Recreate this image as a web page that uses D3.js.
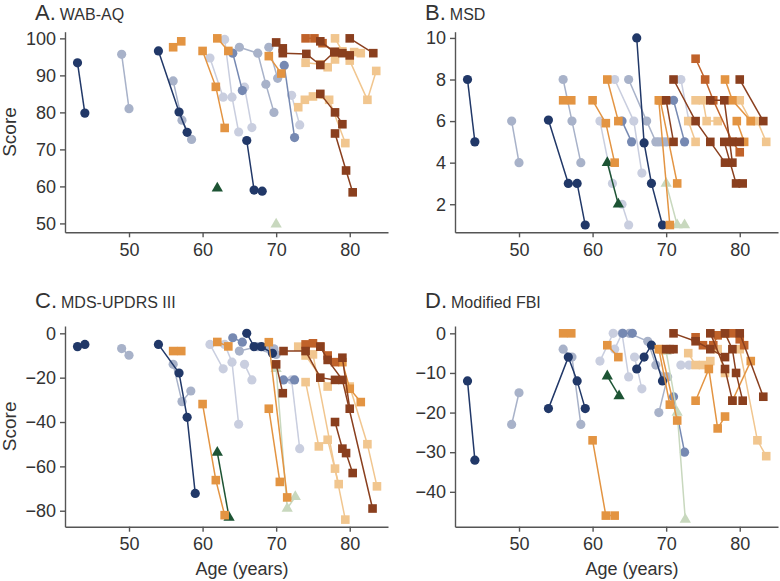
<!DOCTYPE html>
<html><head><meta charset="utf-8">
<script src="https://cdn.jsdelivr.net/npm/d3@7"></script>
<style>
body{margin:0;background:#fff;}
text{font-family:"Liberation Sans",Arial,sans-serif;fill:#333;}
</style></head>
<body><svg id="c" width="780" height="581"></svg>
<script>
// ---- data ----
const xTicks = [50, 60, 70, 80];
const panelLetters = ["A.", "B.", "C.", "D."];
const panelNames = ["WAB-AQ", "MSD", "MDS-UPDRS III", "Modified FBI"];
const yTicksA = [50, 60, 70, 80, 90, 100];
const yTicksB = [2, 4, 6, 8, 10];
const yTicksC = [0, -20, -40, -60, -80];
const yTicksD = [0, -10, -20, -30, -40];

const groupColors = {
  lightB: "#c9cedf", lightA: "#a8b2c9", medium: "#7689b2", navy: "#213868",
  dkgreen: "#1d5434", ltgreen: "#c8d8be",
  tan: "#f1c68f", orange: "#e39442", brown: "#c0622a", dkbrown: "#8a3f1e"
};
const groupShapes = {
  lightB: "circle", lightA: "circle", medium: "circle", navy: "circle",
  dkgreen: "triangle", ltgreen: "triangle",
  tan: "square", orange: "square", brown: "square", dkbrown: "square"
};
const drawOrder = ["lightB","lightA","medium","navy","ltgreen","dkgreen","tan","orange","brown","dkbrown"];

const wabTracks = [
  {g:"navy", p:[[43,93.4],[44,79.8]]},
  {g:"lightA", p:[[49,95.7],[50,81]]},
  {g:"navy", p:[[54,96.6],[56.8,80.1],[57.9,74.6]]},
  {g:"lightA", p:[[56,88.5],[57.2,77.9],[58.5,72.7]]},
  {g:"orange", p:[[56,97.6],[57.1,99.2]]},
  {g:"orange", p:[[60,96.6],[61.8,86.9],[63,75.8]]},
  {g:"orange", p:[[62,100],[63.5,96.6]]},
  {g:"lightB", p:[[61,94.7],[62.8,84.1]]},
  {g:"lightB", p:[[63,99.7],[64,84.1],[64.9,74.7]]},
  {g:"lightB", p:[[65.7,86.8],[66.7,75.9]]},
  {g:"medium", p:[[64.1,96],[65.4,85.9]]},
  {g:"lightA", p:[[65,97.6],[67.5,96],[68.6,87.6],[69.7,80]]},
  {g:"lightA", p:[[69,97.6],[70.2,89.2]]},
  {g:"medium", p:[[71.1,92.7],[72.5,73.2]]},
  {g:"lightB", p:[[72.1,84.6],[73.2,76.6]]},
  {g:"dkgreen", p:[[62,59.5]]},
  {g:"navy", p:[[66,72.4],[67,59],[68.1,58.7]]},
  {g:"ltgreen", p:[[70,49.8]]},
  {g:"orange", p:[[69,95.2],[70.7,90.5]]},
  {g:"dkbrown", p:[[70,98.9],[70.9,97.3]]},
  {g:"dkbrown", p:[[70.9,96],[74.1,95.8],[76,92.8],[77.9,96.3]]},
  {g:"brown", p:[[74,100],[75.2,100],[76.3,98.7],[78,96.3]]},
  {g:"dkbrown", p:[[76,99.2],[77.9,96.3],[79,96],[80,95.4]]},
  {g:"tan", p:[[78,100],[79,96.5],[80.6,96.3],[81.5,96]]},
  {g:"dkbrown", p:[[80,100],[83.2,96]]},
  {g:"tan", p:[[74,93.4],[76,93],[77,92.2],[78,94.3]]},
  {g:"tan", p:[[80,94],[82.4,83.4],[83.6,91.2]]},
  {g:"tan", p:[[73,81.4],[73.9,83.4],[75,84.3],[77.2,83.4],[79.4,71.7]]},
  {g:"dkbrown", p:[[76,85],[78,80],[79,76.8]]},
  {g:"dkbrown", p:[[78,74.3],[79.5,64.3],[80.4,58.4]]}
];

const msdTracks = [
  {g:"navy", p:[[43,8],[44,5]]},
  {g:"lightA", p:[[49,6],[50,4]]},
  {g:"navy", p:[[54,6.05],[56.7,3],[57.9,3],[59,1]]},
  {g:"lightA", p:[[56,8],[57.2,6],[58.4,4]]},
  {g:"orange", p:[[56,7],[57.1,7]]},
  {g:"orange", p:[[60,7],[61.8,5.9],[63,4]]},
  {g:"orange", p:[[62,8],[63.5,6]]},
  {g:"lightB", p:[[61,6],[62.7,3]]},
  {g:"lightB", p:[[64,2],[64.9,1]]},
  {g:"lightB", p:[[63,8],[65.6,6],[66.7,3.5]]},
  {g:"lightA", p:[[64.9,8],[67.35,6],[68.6,5],[69.5,5]]},
  {g:"medium", p:[[64,6],[65.3,5]]},
  {g:"navy", p:[[66,10],[67,4.95],[68,3],[69.5,1]]},
  {g:"lightA", p:[[69,5],[70,5]]},
  {g:"medium", p:[[71,7],[72.5,5]]},
  {g:"lightB", p:[[72,8],[73.1,6]]},
  {g:"dkgreen", p:[[62,4],[63.5,2]]},
  {g:"ltgreen", p:[[70,3],[71.5,1],[72.5,1]]},
  {g:"orange", p:[[69,7],[70.5,1]]},
  {g:"orange", p:[[69.2,7],[71.5,3]]},
  {g:"dkbrown", p:[[70,7],[71,5]]},
  {g:"dkbrown", p:[[71,8],[74,6],[76,5],[78,4]]},
  {g:"brown", p:[[74,9],[75.3,8],[76.4,7],[79,5],[80,4.5]]},
  {g:"dkbrown", p:[[76,7],[77.9,7],[79,4]]},
  {g:"dkbrown", p:[[77.9,5],[79.5,3],[80.4,3]]},
  {g:"dkbrown", p:[[80,8],[83.2,6]]},
  {g:"dkbrown", p:[[79,5],[80,5]]},
  {g:"orange", p:[[78,8],[79,7],[81.5,6]]},
  {g:"orange", p:[[79.6,6],[80.6,5]]},
  {g:"tan", p:[[73,6],[74,5]]},
  {g:"tan", p:[[74,7],[75,7],[75.5,6],[77,6]]},
  {g:"tan", p:[[80,7],[81.5,6],[82.4,6],[83.6,5]]}
];

const updrsTracks = [
  {g:"navy", p:[[43,-6],[44,-5]]},
  {g:"lightA", p:[[49,-6.9],[50,-9.9]]},
  {g:"navy", p:[[54,-5],[56.8,-17.9],[57.9,-37.9],[59,-72.2]]},
  {g:"lightA", p:[[56,-14],[57.2,-30.8],[58.4,-26]]},
  {g:"orange", p:[[56,-8],[57.1,-8]]},
  {g:"orange", p:[[60,-31.9],[61.8,-66.2],[63,-82]]},
  {g:"orange", p:[[62,-3.9],[63.5,-5.9]]},
  {g:"dkgreen", p:[[62,-53.7],[63.6,-83]]},
  {g:"lightB", p:[[61,-5],[62.8,-16]]},
  {g:"lightB", p:[[63,-5],[64,-13],[64.9,-41]]},
  {g:"lightB", p:[[65.7,-14],[66.7,-21]]},
  {g:"medium", p:[[64.1,-2],[65.4,-4]]},
  {g:"lightA", p:[[65,-8],[67.5,-6],[68.6,-6.5],[69.7,-7]]},
  {g:"navy", p:[[66,0],[67,-6],[68,-6],[69.5,-9]]},
  {g:"lightA", p:[[69,-7],[70,-9.5]]},
  {g:"medium", p:[[71,-21],[72.5,-21]]},
  {g:"lightB", p:[[72.1,-21],[73.2,-52]]},
  {g:"ltgreen", p:[[70,-16],[71.5,-79],[72.6,-73.7]]},
  {g:"orange", p:[[69,-34],[70.5,-67]]},
  {g:"orange", p:[[69,-4],[71.5,-74]]},
  {g:"dkbrown", p:[[70,-14],[70.9,-27]]},
  {g:"dkbrown", p:[[71,-8],[74,-8],[76,-20],[78,-21]]},
  {g:"brown", p:[[74,-5],[75,-4.5],[76,-6],[77,-10],[78,-13]]},
  {g:"tan", p:[[73,-6],[74,-10],[77,-24]]},
  {g:"tan", p:[[74,-22],[75.8,-51],[77,-48],[78.5,-68]]},
  {g:"tan", p:[[75,-9.5],[78,-61],[79.4,-84]]},
  {g:"dkbrown", p:[[78,-40],[79,-52],[79.5,-54],[80.4,-63]]},
  {g:"dkbrown", p:[[79,-11],[80,-34]]},
  {g:"dkbrown", p:[[76,-6],[77,-12],[79,-21],[83.1,-79]]},
  {g:"orange", p:[[79,-13],[80,-25],[81.5,-31]]},
  {g:"tan", p:[[80,-24],[82.4,-50],[83.7,-69]]}
];

const fbiTracks = [
  {g:"navy", p:[[43,-12],[44,-32]]},
  {g:"lightA", p:[[49,-23],[50,-15]]},
  {g:"navy", p:[[54,-19],[56.7,-6],[57.9,-12],[59,-19]]},
  {g:"lightA", p:[[56,-4],[57.2,-6],[58.4,-23]]},
  {g:"orange", p:[[56,0],[57.1,0]]},
  {g:"orange", p:[[60,-27],[61.8,-46],[63,-46]]},
  {g:"orange", p:[[62,-3],[63.5,-6]]},
  {g:"dkgreen", p:[[62,-10.8],[63.6,-15.8]]},
  {g:"lightB", p:[[61,-7],[62.8,0]]},
  {g:"lightB", p:[[63,-4],[64,0],[64.9,-11]]},
  {g:"lightB", p:[[65.7,-6],[66.7,-14]]},
  {g:"medium", p:[[64.1,0],[65.4,0]]},
  {g:"lightA", p:[[65,0],[67.5,-2],[68.6,-8],[69.7,-11]]},
  {g:"navy", p:[[66,-9],[67,-6],[68,-3],[69.5,-12]]},
  {g:"lightA", p:[[69,-20],[70.2,-11]]},
  {g:"medium", p:[[71,-16],[72.5,-30]]},
  {g:"lightB", p:[[72,-8],[73.1,-8]]},
  {g:"ltgreen", p:[[70,-4.6],[71.5,-20],[72.6,-47]]},
  {g:"orange", p:[[69,-4],[70.5,-18]]},
  {g:"orange", p:[[69.3,-4],[71.5,-22]]},
  {g:"dkbrown", p:[[70,-4],[70.5,-4],[71,-4]]},
  {g:"dkbrown", p:[[71,0],[74,-2],[76,-4],[78,-6]]},
  {g:"brown", p:[[74,-1],[75,-3],[76.4,-3],[77,-0.5],[78,0]]},
  {g:"dkbrown", p:[[76,0],[78,-9],[79,-17]]},
  {g:"dkbrown", p:[[78,0],[79,-4],[79.5,-10],[80.4,-17]]},
  {g:"dkbrown", p:[[80,0],[83.2,-16]]},
  {g:"brown", p:[[79,0],[80,-1.5],[80.6,-3]]},
  {g:"tan", p:[[73,-5],[74,-8],[75,-8],[76,-7]]},
  {g:"orange", p:[[74,-17],[75.8,-9],[77,-24],[78,-21]]},
  {g:"orange", p:[[79,-17],[81.5,-7]]},
  {g:"tan", p:[[77,-4],[78,-10]]},
  {g:"tan", p:[[80,-4],[82.4,-27],[83.6,-31]]}
];

// ---- drawing ----
const svg = d3.select("#c");
const panels = [
  {tracks:wabTracks, yTicks:yTicksA, yDom:[47.6,101.8], left:65, top:31.7, bottom:232.3, titleY:20, score:true, xlab:false},
  {tracks:msdTracks, yTicks:yTicksB, yDom:[0.65,10.3], left:455, top:31.7, bottom:232.3, titleY:20, score:false, xlab:false},
  {tracks:updrsTracks, yTicks:yTicksC, yDom:[-87.2,3.3], left:65, top:326, bottom:526.7, titleY:308, score:true, xlab:true},
  {tracks:fbiTracks, yTicks:yTicksD, yDom:[-48.8,1.85], left:455, top:326, bottom:526.7, titleY:308, score:false, xlab:true}
];
const plotW = 323;

panels.forEach((P, i) => {
  const g = svg.append("g");
  const x = d3.scaleLinear().domain([41.3, 85.2]).range([P.left, P.left + plotW]);
  const y = d3.scaleLinear().domain(P.yDom).range([P.bottom, P.top]);

  const ya = g.append("g").attr("transform", `translate(${P.left},0)`)
    .call(d3.axisLeft(y).tickValues(P.yTicks).tickSize(5).tickSizeOuter(0).tickPadding(4));
  const xa = g.append("g").attr("transform", `translate(0,${P.bottom})`)
    .call(d3.axisBottom(x).tickValues(xTicks).tickSize(5).tickSizeOuter(0).tickPadding(6));
  [ya, xa].forEach(a => {
    a.selectAll("path,line").attr("stroke", "#555").attr("stroke-width", 1.4);
    a.selectAll("text").attr("font-size", 18).attr("fill", "#333")
      .attr("font-family", '"Liberation Sans",Arial,sans-serif');
  });

  // title
  const t = g.append("text").attr("x", P.left - 30).attr("y", P.titleY);
  t.append("tspan").attr("font-size", 22).text(panelLetters[i]);
  t.append("tspan").attr("font-size", 16).attr("dx", 4).text(panelNames[i]);

  if (P.score) {
    g.append("text").attr("transform", `translate(16,${(P.top + P.bottom) / 2}) rotate(-90)`)
      .attr("text-anchor", "middle").attr("font-size", 19).text("Score");
  }
  if (P.xlab) {
    g.append("text").attr("x", P.left + 177).attr("y", 575)
      .attr("text-anchor", "middle").attr("font-size", 18).text("Age (years)");
  }

  const line = d3.line().x(d => x(d[0])).y(d => y(d[1]));
  const sorted = P.tracks.slice().sort((a, b) => drawOrder.indexOf(a.g) - drawOrder.indexOf(b.g));
  sorted.forEach(tr => {
    const col = groupColors[tr.g];
    if (tr.p.length > 1) {
      g.append("path").attr("d", line(tr.p)).attr("fill", "none")
        .attr("stroke", col).attr("stroke-width", 1.5);
    }
    const shape = groupShapes[tr.g];
    tr.p.forEach(d => {
      const cx = x(d[0]), cy = y(d[1]);
      if (shape === "circle") {
        g.append("circle").attr("cx", cx).attr("cy", cy).attr("r", 4.6).attr("fill", col);
      } else if (shape === "square") {
        g.append("rect").attr("x", cx - 4.3).attr("y", cy - 4.3).attr("width", 8.6).attr("height", 8.6).attr("fill", col);
      } else {
        g.append("path").attr("d", d3.symbol().type(d3.symbolTriangle).size(55)())
          .attr("transform", `translate(${cx},${cy})`).attr("fill", col);
      }
    });
  });
});
</script></body></html>
